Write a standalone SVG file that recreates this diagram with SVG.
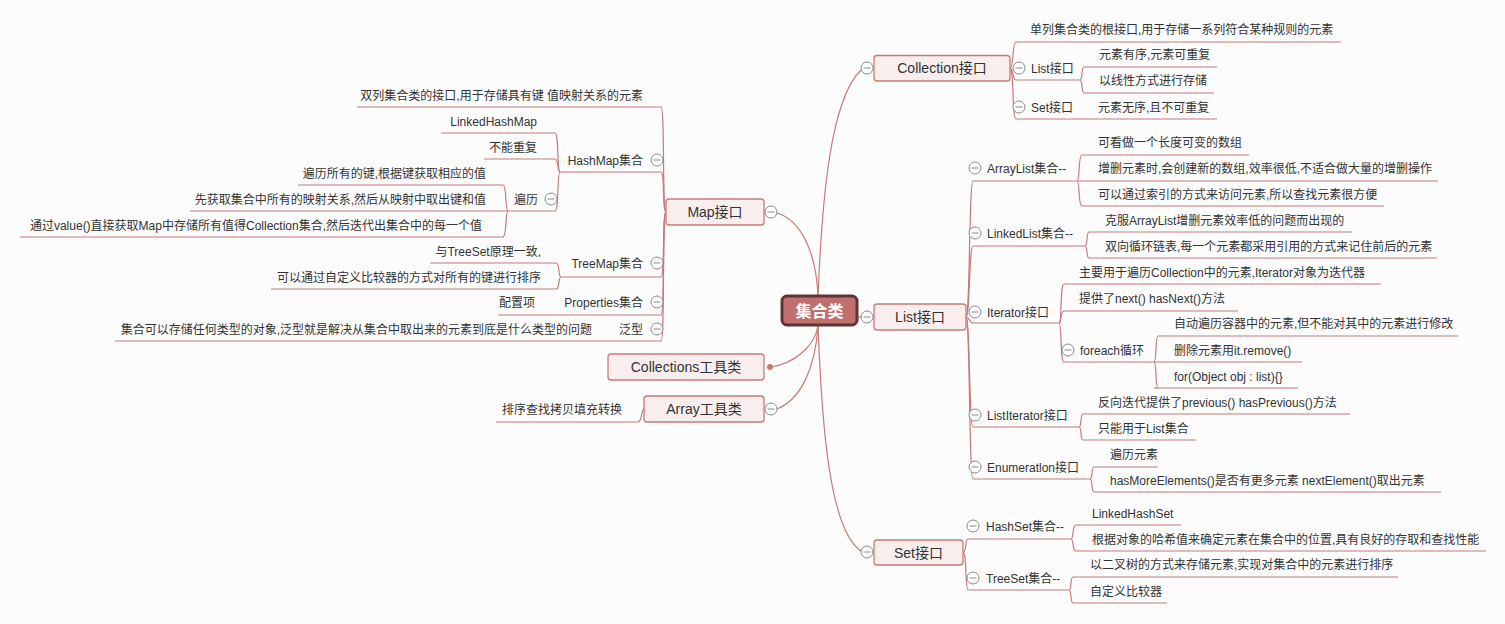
<svg xmlns="http://www.w3.org/2000/svg" width="1505" height="624" viewBox="0 0 1505 624">
<style>
text{font-family:"Liberation Sans","Noto Sans CJK SC",sans-serif;font-size:12px;fill:#333}
.tm{font-size:14px;text-anchor:middle}
.e{text-anchor:end}
.u,.c{stroke:#c57b7a;stroke-width:1.2;fill:none}
.box{fill:#f8eeee;stroke:#c67b79;stroke-width:1.3}
.root{fill:#bf6f6d;stroke:#5e3434;stroke-width:3}
.rt{font-size:16px;font-weight:bold;fill:#fff;text-anchor:middle}
</style>
<defs>
<g id="mn"><circle r="6" fill="#fff" stroke="#8a8a8a" stroke-width="1"/><line x1="-3.5" y1="0" x2="3.5" y2="0" stroke="#8a8a8a" stroke-width="1"/></g>
</defs>
<rect width="1505" height="624" fill="#fcfcfc"/>

<g id="connectors">
<!-- root to main -->
<path class="c" d="M818,296 C822,200 830,100 861,70"/>
<path class="c" d="M858,317 L861,317"/>
<path class="c" d="M818,326 C822,430 830,530 861,551"/>
<path class="c" d="M777,213 C800,220 816,250 818,296"/>
<path class="c" d="M770,367 C795,364 815,345 818,326"/>
<path class="c" d="M777,409 C800,400 815,370 818,326"/>
<!-- Collection -->
<path class="c" d="M1010,68 C1014,68 1012,42 1016,42"/>
<path class="c" d="M1010,68 C1014,68 1012,80 1016,80"/>
<path class="c" d="M1010,68 C1014,68 1012,119 1016,119"/>
<path class="c" d="M1080,80 C1083,80 1081,67 1084,67"/>
<path class="c" d="M1080,80 C1083,80 1081,93 1084,93"/>
<!-- List -->
<path class="c" d="M966,317 C970,317 969,181 973,181"/>
<path class="c" d="M966,317 C970,317 969,246 973,246"/>
<path class="c" d="M966,317 C970,317 969,323 973,323"/>
<path class="c" d="M966,317 C970,317 969,427 973,427"/>
<path class="c" d="M966,317 C970,317 969,479 973,479"/>
<path class="c" d="M1077,181 C1080,181 1078,155 1082,155"/>
<path class="c" d="M1077,181 C1080,181 1078,206 1082,206"/>
<path class="c" d="M1085,246 C1088,246 1086,232 1089,232"/>
<path class="c" d="M1085,246 C1088,246 1086,258 1089,258"/>
<path class="c" d="M1059,323 C1062,323 1060,284 1064,284"/>
<path class="c" d="M1059,323 C1062,323 1060,311 1064,311"/>
<path class="c" d="M1059,323 C1062,323 1060,362 1064,362"/>
<path class="c" d="M1154,362 C1157,362 1155,336 1158,336"/>
<path class="c" d="M1154,388 C1154,388 1155,388 1158,388"/>
<path class="c" d="M1154,362 C1157,362 1155,388 1158,388"/>
<path class="c" d="M1079,427 C1082,427 1080,414 1083,414"/>
<path class="c" d="M1079,427 C1082,427 1080,440 1083,440"/>
<path class="c" d="M1090,479 C1093,479 1091,467 1094,467"/>
<path class="c" d="M1090,479 C1093,479 1091,492 1094,492"/>
<!-- Set -->
<path class="c" d="M963,552 C967,552 965,539 968,539"/>
<path class="c" d="M963,552 C967,552 965,590 968,590"/>
<path class="c" d="M1071,539 C1074,539 1072,525 1076,525"/>
<path class="c" d="M1071,539 C1074,539 1072,551 1076,551"/>
<path class="c" d="M1069,590 C1072,590 1070,577 1073,577"/>
<path class="c" d="M1069,590 C1072,590 1070,603 1073,603"/>
<!-- Map -->
<path class="c" d="M666,212 C662,212 665,107 661,107"/>
<path class="c" d="M666,212 C662,212 665,172 661,172"/>
<path class="c" d="M666,212 C662,212 665,277 661,277"/>
<path class="c" d="M666,212 C662,212 665,315 661,315"/>
<path class="c" d="M666,212 C662,212 665,341 661,341"/>
<path class="c" d="M560,172 C557,172 559,133 555,133"/>
<path class="c" d="M560,172 C557,172 559,159 555,159"/>
<path class="c" d="M560,172 C557,172 559,211 555,211"/>
<path class="c" d="M508,211 C505,211 507,185 503,185"/>
<path class="c" d="M508,211 C505,211 507,237 503,237"/>
<path class="c" d="M561,277 C558,277 560,263 556,263"/>
<path class="c" d="M561,277 C558,277 560,289 556,289"/>
<!-- Array -->
<path class="c" d="M644,409 C641,410 642,422 638,422"/>
</g>

<g id="root">
<rect class="root" x="782" y="296" width="75" height="29" rx="5"/>
<text class="rt" x="819.5" y="316.5">集合类</text>
</g>

<g id="collection">
<rect class="box" x="874" y="55.5" width="136" height="25.5" rx="3"/>
<text class="tm" x="942" y="73">Collection接口</text>
<use href="#mn" x="867" y="68"/>
</g>
<g id="col-root-desc"><text x="1030" y="33.5">单列集合类的根接口,用于存储一系列符合某种规则的元素</text><line class="u" x1="1016" y1="42" x2="1341" y2="42"/></g>
<g id="col-list"><use href="#mn" x="1019" y="68"/><text x="1031" y="72.5">List接口</text><line class="u" x1="1016" y1="80" x2="1080" y2="80"/></g>
<g id="col-list-1"><text x="1099" y="58.5">元素有序,元素可重复</text><line class="u" x1="1084" y1="67" x2="1217" y2="67"/></g>
<g id="col-list-2"><text x="1099" y="84.5">以线性方式进行存储</text><line class="u" x1="1084" y1="93" x2="1214" y2="93"/></g>
<g id="col-set"><use href="#mn" x="1019" y="107"/><text x="1031" y="111.5">Set接口</text><line class="u" x1="1016" y1="119" x2="1084" y2="119"/></g>
<g id="col-set-1"><text x="1098" y="111.5">元素无序,且不可重复</text><line class="u" x1="1084" y1="119" x2="1217" y2="119"/></g>

<g id="list">
<rect class="box" x="874" y="304" width="92" height="26" rx="3"/>
<text class="tm" x="920" y="322">List接口</text>
<use href="#mn" x="867" y="317"/>
</g>
<g id="arraylist"><use href="#mn" x="975" y="168"/><text x="987" y="172.5">ArrayList集合--</text><line class="u" x1="973" y1="181" x2="1077" y2="181"/></g>
<g id="al-1"><text x="1098" y="146.5">可看做一个长度可变的数组</text><line class="u" x1="1082" y1="155" x2="1249" y2="155"/></g>
<g id="al-2"><text x="1098" y="172.5">增删元素时,会创建新的数组,效率很低,不适合做大量的增删操作</text><line class="u" x1="1077" y1="181" x2="1438" y2="181"/></g>
<g id="al-3"><text x="1098" y="198.5">可以通过索引的方式来访问元素,所以查找元素很方便</text><line class="u" x1="1082" y1="206" x2="1384" y2="206"/></g>
<g id="linkedlist"><use href="#mn" x="975" y="233"/><text x="987" y="237.5">LinkedList集合--</text><line class="u" x1="973" y1="246" x2="1085" y2="246"/></g>
<g id="ll-1"><text x="1105" y="224.5">克服ArrayList增删元素效率低的问题而出现的</text><line class="u" x1="1089" y1="232" x2="1352" y2="232"/></g>
<g id="ll-2"><text x="1105" y="250.5">双向循环链表,每一个元素都采用引用的方式来记住前后的元素</text><line class="u" x1="1089" y1="258" x2="1437" y2="258"/></g>
<g id="iterator"><use href="#mn" x="975" y="312"/><text x="987" y="316.5">Iterator接口</text><line class="u" x1="973" y1="323" x2="1059" y2="323"/></g>
<g id="it-1"><text x="1079" y="276.5">主要用于遍历Collection中的元素,Iterator对象为迭代器</text><line class="u" x1="1064" y1="284" x2="1381" y2="284"/></g>
<g id="it-2"><text x="1079" y="302.5">提供了next() hasNext()方法</text><line class="u" x1="1064" y1="311" x2="1238" y2="311"/></g>
<g id="foreach"><use href="#mn" x="1068" y="350"/><text x="1080" y="354.5">foreach循环</text><line class="u" x1="1064" y1="362" x2="1154" y2="362"/></g>
<g id="fe-1"><text x="1174" y="327.5">自动遍历容器中的元素,但不能对其中的元素进行修改</text><line class="u" x1="1158" y1="336" x2="1458" y2="336"/></g>
<g id="fe-2"><text x="1174" y="354.5">删除元素用it.remove()</text><line class="u" x1="1154" y1="362" x2="1302" y2="362"/></g>
<g id="fe-3"><text x="1174" y="380.5">for(Object obj : list){}</text><line class="u" x1="1158" y1="388" x2="1298" y2="388"/></g>
<g id="listiterator"><use href="#mn" x="975" y="415"/><text x="987" y="419.5">ListIterator接口</text><line class="u" x1="973" y1="427" x2="1079" y2="427"/></g>
<g id="li-1"><text x="1098" y="406.5">反向迭代提供了previous() hasPrevious()方法</text><line class="u" x1="1083" y1="414" x2="1350" y2="414"/></g>
<g id="li-2"><text x="1098" y="432.5">只能用于List集合</text><line class="u" x1="1083" y1="440" x2="1196" y2="440"/></g>
<g id="enumeration"><use href="#mn" x="975" y="467"/><text x="987" y="471.5">Enumeratlon接口</text><line class="u" x1="973" y1="479" x2="1090" y2="479"/></g>
<g id="en-1"><text x="1110" y="458.5">遍历元素</text><line class="u" x1="1094" y1="467" x2="1158" y2="467"/></g>
<g id="en-2"><text x="1110" y="484.5">hasMoreElements()是否有更多元素 nextElement()取出元素</text><line class="u" x1="1094" y1="492" x2="1441" y2="492"/></g>

<g id="set">
<rect class="box" x="874" y="540" width="89" height="25" rx="3"/>
<text class="tm" x="918.5" y="557.5">Set接口</text>
<use href="#mn" x="867" y="552"/>
</g>
<g id="hashset"><use href="#mn" x="973" y="526"/><text x="986" y="530.5">HashSet集合--</text><line class="u" x1="968" y1="539" x2="1071" y2="539"/></g>
<g id="hs-1"><text x="1092" y="517.5">LinkedHashSet</text><line class="u" x1="1076" y1="525" x2="1181" y2="525"/></g>
<g id="hs-2"><text x="1092" y="543.5">根据对象的哈希值来确定元素在集合中的位置,具有良好的存取和查找性能</text><line class="u" x1="1076" y1="551" x2="1486" y2="551"/></g>
<g id="treeset"><use href="#mn" x="973" y="578"/><text x="986" y="582.5">TreeSet集合--</text><line class="u" x1="968" y1="590" x2="1069" y2="590"/></g>
<g id="ts-1"><text x="1090" y="568.5">以二叉树的方式来存储元素,实现对集合中的元素进行排序</text><line class="u" x1="1073" y1="577" x2="1398" y2="577"/></g>
<g id="ts-2"><text x="1090" y="595.5">自定义比较器</text><line class="u" x1="1073" y1="603" x2="1167" y2="603"/></g>

<g id="map">
<rect class="box" x="666" y="199" width="98" height="26" rx="3"/>
<text class="tm" x="715" y="217">Map接口</text>
<use href="#mn" x="771" y="212"/>
</g>
<g id="map-desc"><text class="e" x="643" y="99.5">双列集合类的接口,用于存储具有键 值映射关系的元素</text><line class="u" x1="357" y1="107" x2="661" y2="107"/></g>
<g id="hashmap"><text class="e" x="643" y="164.5">HashMap集合</text><use href="#mn" x="657" y="160"/><line class="u" x1="560" y1="172" x2="661" y2="172"/></g>
<g id="hm-1"><text class="e" x="537" y="125.5">LinkedHashMap</text><line class="u" x1="441" y1="133" x2="555" y2="133"/></g>
<g id="hm-2"><text class="e" x="537" y="151.5">不能重复</text><line class="u" x1="484" y1="159" x2="555" y2="159"/></g>
<g id="hm-traverse"><text class="e" x="538" y="203.5">遍历</text><use href="#mn" x="551" y="199"/><line class="u" x1="508" y1="211" x2="555" y2="211"/></g>
<g id="tr-1"><text class="e" x="486" y="177.5">遍历所有的键,根据键获取相应的值</text><line class="u" x1="298" y1="185" x2="503" y2="185"/></g>
<g id="tr-2"><text class="e" x="486" y="203.5">先获取集合中所有的映射关系,然后从映射中取出键和值</text><line class="u" x1="190" y1="211" x2="508" y2="211"/></g>
<g id="tr-3"><text class="e" x="482" y="229.5">通过value()直接获取Map中存储所有值得Collection集合,然后迭代出集合中的每一个值</text><line class="u" x1="20" y1="237" x2="503" y2="237"/></g>
<g id="treemap"><text class="e" x="643" y="267.5">TreeMap集合</text><use href="#mn" x="657" y="263"/><line class="u" x1="561" y1="277" x2="661" y2="277"/></g>
<g id="tm-1"><text class="e" x="541" y="255.5">与TreeSet原理一致,</text><line class="u" x1="430" y1="263" x2="556" y2="263"/></g>
<g id="tm-2"><text class="e" x="541" y="281.5">可以通过自定义比较器的方式对所有的键进行排序</text><line class="u" x1="271" y1="289" x2="556" y2="289"/></g>
<g id="properties"><text class="e" x="643" y="306.5">Properties集合</text><use href="#mn" x="657" y="302"/><line class="u" x1="545" y1="315" x2="661" y2="315"/></g>
<g id="pr-1"><text class="e" x="535" y="306.5">配置项</text><line class="u" x1="498" y1="315" x2="545" y2="315"/></g>
<g id="generic"><text class="e" x="643" y="333.5">泛型</text><use href="#mn" x="657" y="329"/><line class="u" x1="600" y1="341" x2="661" y2="341"/></g>
<g id="ge-1"><text class="e" x="592" y="333.5">集合可以存储任何类型的对象,泛型就是解决从集合中取出来的元素到底是什么类型的问题</text><line class="u" x1="115" y1="341" x2="600" y2="341"/></g>

<g id="collections">
<rect class="box" x="608" y="354" width="156" height="26" rx="3"/>
<text class="tm" x="686" y="372">Collections工具类</text>
<circle cx="770" cy="367" r="3" fill="#c57b7a"/>
</g>

<g id="array">
<rect class="box" x="644" y="396" width="120" height="26" rx="3"/>
<text class="tm" x="704" y="414">Array工具类</text>
<use href="#mn" x="771" y="409"/>
</g>
<g id="ar-1"><text class="e" x="622" y="413.5">排序查找拷贝填充转换</text><line class="u" x1="496" y1="422" x2="638" y2="422"/></g>
</svg>
